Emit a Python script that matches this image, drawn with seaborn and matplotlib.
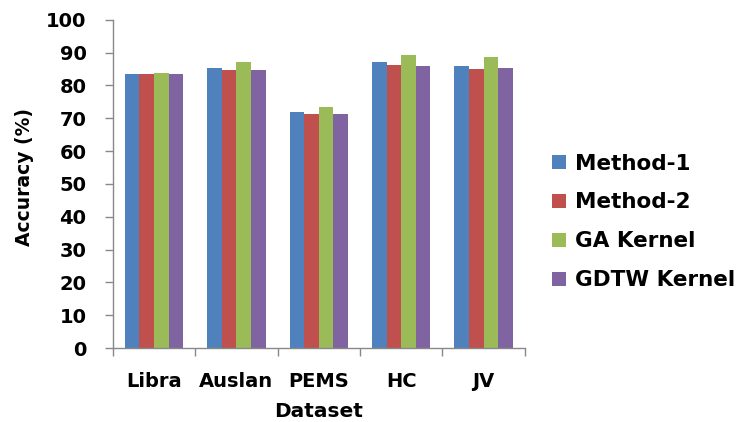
import matplotlib
matplotlib.use("Agg")
import matplotlib.pyplot as plt
import seaborn as sns
import pandas as pd
import numpy as np

datasets = ["Libra", "Auslan", "PEMS", "HC", "JV"]
methods = ["Method-1", "Method-2", "GA Kernel", "GDTW Kernel"]
method1 = [83.4, 85.2, 72.0, 87.1, 85.8]
method2 = [83.4, 84.6, 71.3, 86.2, 84.9]
ga_kernel = [83.7, 87.1, 73.6, 89.2, 88.8]
gdtw_kernel = [83.4, 84.6, 71.3, 85.8, 85.2]
yticks = [0, 10, 20, 30, 40, 50, 60, 70, 80, 90, 100]
colors = ["#4F81BD", "#C0504D", "#9BBB59", "#8064A2"]

sns.set_style("white")
plt.rcParams['font.family'] = ['DejaVu Sans']
plt.rcParams['text.color'] = 'black'
plt.rcParams['axes.labelcolor'] = 'black'
plt.rcParams['xtick.color'] = 'black'
plt.rcParams['ytick.color'] = 'black'

rows = []
for m, vals in zip(methods, [method1, method2, ga_kernel, gdtw_kernel]):
    for d, v in zip(datasets, vals):
        rows.append({"Dataset": d, "Method": m, "Accuracy": v})
df = pd.DataFrame(rows)

fig = plt.figure(figsize=(7.38, 4.22), dpi=100)
ax = fig.add_axes([0.153, 0.175, 0.558, 0.778])
sns.barplot(data=df, x="Dataset", y="Accuracy", hue="Method", order=datasets,
            hue_order=methods, palette=colors, width=0.71, saturation=1,
            edgecolor="none", ax=ax, legend=True)

ax.set_ylim(0, 100)
ax.set_xlim(-0.5, len(datasets) - 0.5)
ax.set_yticks(yticks)
ax.set_yticklabels([str(t) for t in yticks], fontsize=14, fontweight="bold")
ax.set_xticks(range(len(datasets)))
ax.set_xticklabels(datasets, fontsize=14, fontweight="bold")
ax.tick_params(axis="x", which="major", length=0, pad=17, labelcolor="black")
ax.set_xticks(np.arange(-0.5, len(datasets), 1.0), minor=True)
ax.tick_params(axis="x", which="minor", length=6, color="#888888", width=1, direction="out", bottom=True)
ax.tick_params(axis="y", length=6, color="#888888", width=1, direction="out", left=True, pad=13,
               labelcolor="black")
ax.set_ylabel("Accuracy (%)", fontsize=13.5, fontweight="bold", color="black")
ax.yaxis.set_label_coords(-0.192, 0.52)
ax.set_xlabel("Dataset", fontsize=14.5, fontweight="bold", labelpad=8, color="black")
for s in ["top", "right"]:
    ax.spines[s].set_visible(False)
for s in ["left", "bottom"]:
    ax.spines[s].set_color("#888888")
    ax.spines[s].set_linewidth(1)

handles, labels = ax.get_legend_handles_labels()
ax.get_legend().remove()
leg = fig.legend(handles, labels, loc="center left", bbox_to_anchor=(0.748, 0.474),
                 frameon=False, prop={"size": 15.5, "weight": "bold"},
                 handlelength=0.65, handleheight=0.65, handletextpad=0.4, labelspacing=0.88,
                 borderpad=0, borderaxespad=0)
for t in leg.get_texts():
    t.set_color("black")

fig.savefig("out.png", dpi=100)
